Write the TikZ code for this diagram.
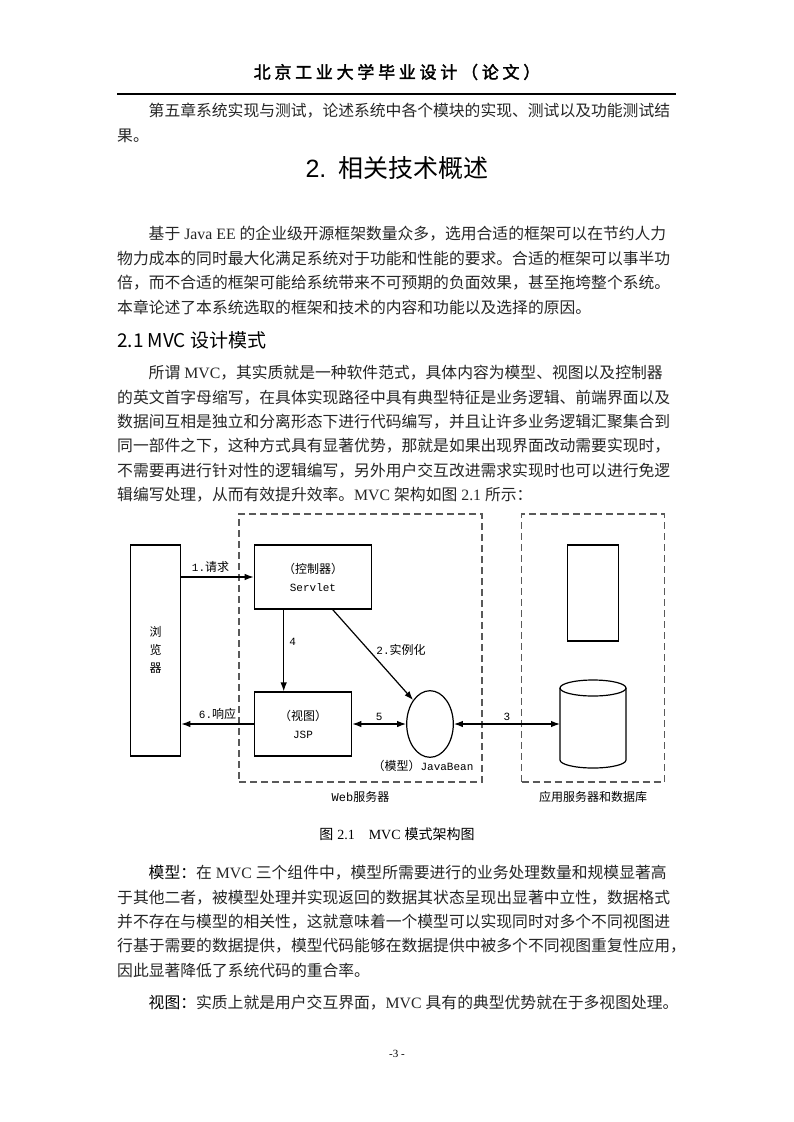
\documentclass[tikz,border=0pt]{standalone}
\usepackage{fontspec}
\setmainfont{Noto Sans CJK SC}
\newfontfamily\tnr{Liberation Serif}
\newfontfamily\hsans{Liberation Sans}
\newfontfamily\dmono{Liberation Mono}
\newfontfamily\hdrfont[LetterSpace=22,FakeBold=2]{Noto Sans CJK SC}
\usetikzlibrary{shapes.geometric, positioning, arrows.meta}
\XeTeXlinebreaklocale "zh"
\XeTeXlinebreakskip=0pt plus 4pt minus 1pt
\newcommand\bodyfont{\fontsize{15.8}{20}\selectfont}
\newcommand\dfont{\fontsize{12}{18}\selectfont}
\newcommand\mfont{\dmono\fontsize{11}{18}\selectfont}
\newcommand\jl[1]{\makebox[552pt][s]{#1}}
\newcommand\jli[1]{\makebox[520.5pt][s]{#1}}
\newcommand\wgap{\hspace{4pt}}

\begin{document}
\begin{tikzpicture}[x=1pt,y=-1pt,
  body/.style={anchor=west, inner sep=0pt, font=\bodyfont, text=black!85},
  box/.style={draw, line width=1.2pt, inner sep=0pt, font=\dfont, align=center},
  dashbox/.style={draw=black!65, dash pattern=on 7pt off 4pt, line width=1.2pt, inner sep=0pt},
  lbl/.style={font=\dfont, inner sep=1pt},
  arr/.style={-{Latex[length=9pt,width=6.5pt]}, line width=1.2pt},
  arrb/.style={{Latex[length=9pt,width=6.5pt]}-{Latex[length=9pt,width=6.5pt]}, line width=1.2pt}]
\fill[white] (0,0) rectangle (793,1122);
\useasboundingbox (0,0) rectangle (793,1122);

% page header
\node[font=\hdrfont\fontsize{17}{20}\selectfont] (hdr) at (397,72) {北京工业大学毕业设计（论文）};
\draw[line width=1.1pt] (117,94) -- (676,94);

% text above the figure
\node[body] (p1a) at (148.5,111) {\jli{第五章系统实现与测试，论述系统中各个模块的实现、测试以及功能测试结}};
\node[body] (p1b) at (117,136) {果。};
\node[font=\fontsize{25}{28}\selectfont] (h1) at (397,168) {{\hsans 2.}\hspace{12pt}相关技术概述};
\node[body] (p2a) at (148.5,234) {\jli{基于\wgap{\tnr Java\wgap EE}\wgap 的企业级开源框架数量众多，选用合适的框架可以在节约人力}};
\node[body] (p2b) at (117,258.5) {\jl{物力成本的同时最大化满足系统对于功能和性能的要求。合适的框架可以事半功}};
\node[body] (p2c) at (117,283) {\jl{倍，而不合适的框架可能给系统带来不可预期的负面效果，甚至拖垮整个系统。}};
\node[body] (p2d) at (117,307.5) {本章论述了本系统选取的框架和技术的内容和功能以及选择的原因。};
\node[anchor=west, inner sep=0pt, font=\fontsize{19}{22}\selectfont] (h2) at (117,340) {2.1 MVC 设计模式};
\node[body] (p3a) at (148.5,373) {\jli{所谓\wgap{\tnr MVC}，其实质就是一种软件范式，具体内容为模型、视图以及控制器}};
\node[body] (p3b) at (117,397.3) {\jl{的英文首字母缩写，在具体实现路径中具有典型特征是业务逻辑、前端界面以及}};
\node[body] (p3c) at (117,421.6) {\jl{数据间互相是独立和分离形态下进行代码编写，并且让许多业务逻辑汇聚集合到}};
\node[body] (p3d) at (117,445.9) {\jl{同一部件之下，这种方式具有显著优势，那就是如果出现界面改动需要实现时，}};
\node[body] (p3e) at (117,470.2) {\jl{不需要再进行针对性的逻辑编写，另外用户交互改进需求实现时也可以进行免逻}};
\node[body] (p3f) at (117,494.5) {辑编写处理，从而有效提升效率。{\tnr MVC}\wgap 架构如图\wgap{\tnr 2.1}\wgap 所示：};

% figure
\node[box, minimum width=50pt, minimum height=211pt] (browser) at (155.7,650.4) {浏\\览\\器};
\node[dashbox, minimum width=243pt, minimum height=268pt] (web) at (360.5,648) {};
\node[dashbox, minimum width=142.6pt, minimum height=268pt] (app) at (593,648) {};
\node[box, minimum width=117.4pt, minimum height=64pt] (servlet) at (313,577) {（控制器）\\{\mfont Servlet}};
\node[box, minimum width=97.4pt, minimum height=64pt] (jsp) at (303,724) {（视图）\\{\mfont JSP}};
\node[box, ellipse, minimum width=46.6pt, minimum height=66.6pt] (model) at (430,724) {};
\node[lbl, below=1pt of model, xshift=-7pt] (modeltxt) {（模型）{\mfont JavaBean}};
\node[box, minimum width=50.6pt, minimum height=96pt] (appsrv) at (593,593) {};
\draw[line width=1.2pt] (560,688) -- (560,760) arc[start angle=180, end angle=0, x radius=33, y radius=8] -- (626,688);
\draw[line width=1.2pt] (593,688) ellipse [x radius=33, y radius=8];
\coordinate (db) at (560,724);
\node[lbl, below=8pt of web] (webtxt) {{\dmono Web}服务器};
\node[lbl, below=8pt of app] (apptxt) {应用服务器和数据库};

\draw[arr] (browser.east |- servlet.west) -- (servlet.west) node[lbl, midway, above=3pt, xshift=-7pt] {{\mfont 1.}请求};
\draw[arr] ([xshift=30pt]servlet.south west) -- ([xshift=30pt]jsp.north west) node[lbl, pos=0.4, right=4pt] {{\mfont 4}};
\draw[arr] ([xshift=79pt]servlet.south west) -- (model.north west) node[lbl, pos=0.45, right=6pt] {{\mfont 2.}实例化};
\draw[arr] (jsp.west) -- (browser.east |- jsp.west) node[lbl, midway, above=3pt] {{\mfont 6.}响应};
\draw[arrb] (jsp.east) -- (model.west) node[lbl, midway, above=2pt] {{\mfont 5}};
\draw[arrb] (model.east) -- (db) node[lbl, midway, above=2pt] {{\mfont 3}};

\node[font=\fontsize{14}{16}\selectfont] (cap) at (397,834) {图\wgap{\tnr 2.1}\hspace{14pt}{\tnr MVC}\wgap 模式架构图};

% text below the figure
\node[body] (p4a) at (148.5,873) {\jli{{\color{black}模型：}在\wgap{\tnr MVC}\wgap 三个组件中，模型所需要进行的业务处理数量和规模显著高}};
\node[body] (p4b) at (117,897.3) {\jl{于其他二者，被模型处理并实现返回的数据其状态呈现出显著中立性，数据格式}};
\node[body] (p4c) at (117,921.6) {\jl{并不存在与模型的相关性，这就意味着一个模型可以实现同时对多个不同视图进}};
\node[body] (p4d) at (117,945.9) {\jl{行基于需要的数据提供，模型代码能够在数据提供中被多个不同视图重复性应用，}};
\node[body] (p4e) at (117,970.2) {因此显著降低了系统代码的重合率。};
\node[body] (p5a) at (148.5,1003) {\jli{{\color{black}视图：}实质上就是用户交互界面，{\tnr MVC}\wgap 具有的典型优势就在于多视图处理。}};

\node[font=\tnr\fontsize{11}{13}\selectfont] (pg) at (397,1054) {-3 -};
\end{tikzpicture}
\end{document}
